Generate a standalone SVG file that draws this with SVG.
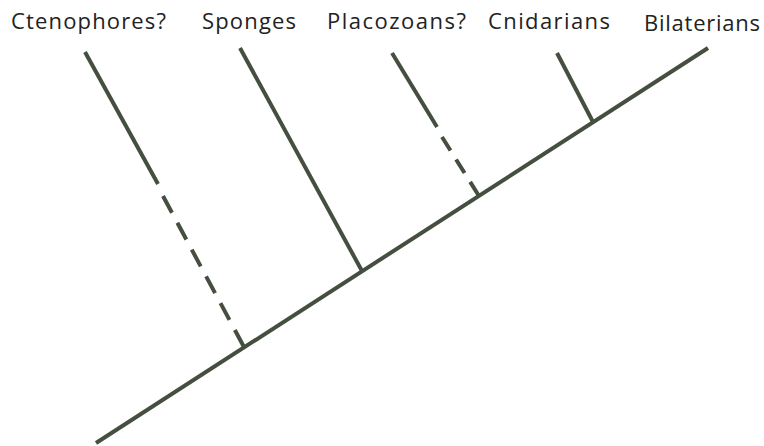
<svg xmlns="http://www.w3.org/2000/svg" width="764" height="446" viewBox="0 0 764 446">
<style>
.l{stroke:#454f40;stroke-width:4;fill:none;stroke-linecap:butt}
text{font-family:"Open Sans","Liberation Sans",sans-serif;font-size:22px;fill:#222;lengthAdjust:spacing}
</style>
<rect width="764" height="446" fill="#fff"/>
<g id="labels">
<text id="t-cteno" x="11" y="29" textLength="155">Ctenophores?</text>
<text id="t-sponges" x="202" y="29" textLength="94">Sponges</text>
<text id="t-placo" x="327" y="29" textLength="139">Placozoans?</text>
<text id="t-cnid" x="488" y="29" textLength="122">Cnidarians</text>
<text id="t-bilat" x="644" y="31" textLength="116">Bilaterians</text>
</g>
<g id="connectors">
<path id="trunk" class="l" d="M96 443 L708 48"/>
<path id="ctenophores" class="l" d="M85 52 L158 184"/>
<path id="ctenophores-dash" class="l" d="M163 196 L244 347" stroke-dasharray="19 11.4"/>
<path id="sponges" class="l" d="M240 48 L362 271"/>
<path id="placozoans" class="l" d="M392 53 L437 127"/>
<path id="placozoans-dash" class="l" d="M442 137 L479 196" stroke-dasharray="16 10.5"/>
<path id="cnidarians" class="l" d="M557 53 L593 122"/>
</g>
</svg>
